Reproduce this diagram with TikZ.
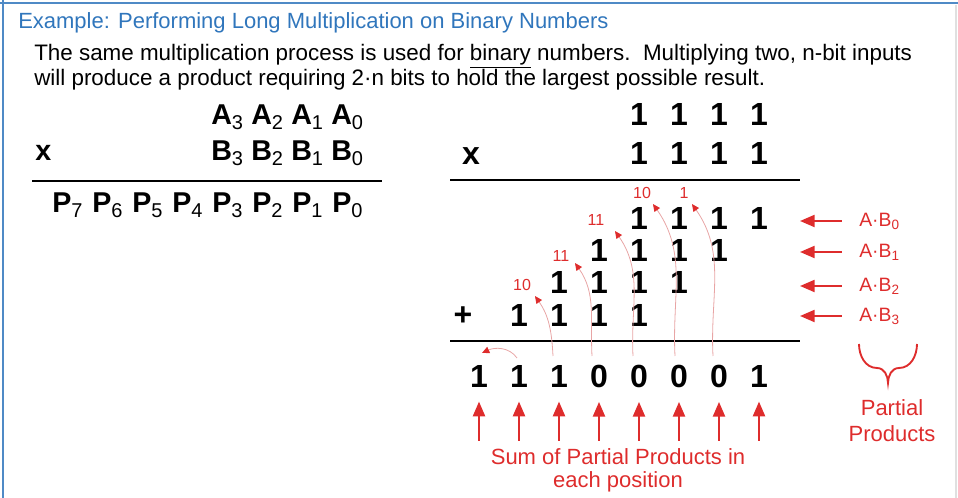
\documentclass[tikz,border=0pt]{standalone}
\usepackage{fontspec}
\setmainfont{Liberation Sans}
\usetikzlibrary{arrows.meta}

\definecolor{slideblue}{RGB}{48,118,188}
\definecolor{slidered}{RGB}{222,44,44}
\definecolor{carryline}{RGB}{232,165,165}

\newcommand{\lowidx}[1]{\raisebox{-0.32ex}{\fontsize{15}{15}\selectfont\mdseries #1}}

\begin{document}
\begin{tikzpicture}[
        x=0.75pt, y=-0.75pt,
        headline/.style={anchor=base west, inner sep=0, text=slideblue, font=\fontsize{16.5}{19}\selectfont},
        body/.style={anchor=base west, inner sep=0, font=\fontsize{16.8}{19}\selectfont},
        letter/.style={anchor=base west, inner sep=0, font=\fontsize{21.5}{25}\selectfont\bfseries},
        bit/.style={anchor=base, inner sep=0, font=\fontsize{24}{28}\selectfont\bfseries},
        carry/.style={inner sep=0, text=slidered, font=\fontsize{12}{14}\selectfont},
        note/.style={align=center, inner sep=0, text=slidered, font=\fontsize{16.5}{19.5}\selectfont},
        rule/.style={line width=1.6pt},
        ptr/.style={draw=slidered, line width=1.6pt, -{Triangle[length=11pt,width=9pt]}},
        carryarrow/.style={draw=carryline, line width=0.6pt, -{Triangle[color=slidered,length=5.5pt,width=5pt]}}
    ]
    \useasboundingbox (0,0) rectangle (958,498);
    % slide frame
    \draw[slideblue!85, line width=2.2pt] (0,3) -- (958,3);
    \draw[slideblue!85, line width=2.2pt] (3,0) -- (3,498);
    \draw[black!12, line width=0.8pt] (956,5) -- (956,498);

    % heading and text
    \node[headline] (title) at (18,29) {Example: Performing Long Multiplication on Binary Numbers};
    \node[body] (line1) at (34,61) {The same multiplication process is used for \underline{binary} numbers.\ \ Multiplying two, n-bit inputs};
    \node[body] (line2) at (34,86) {will produce a product requiring 2·n bits to hold the largest possible result.};

    % general form
    \foreach \i [count=\k from 0] in {3,2,1,0} {
        \node[letter] (a\i) at (211+40*\k,125) {A\lowidx{\i}};
        \node[letter] (b\i) at (211+40*\k,161) {B\lowidx{\i}};
    }
    \node[letter] (times1) at (35,161) {x};
    \draw[rule] (32,181) -- (382,181);
    \foreach \i in {0,...,7}
        \node[letter] (p\i) at (332-40*\i,213) {P\lowidx{\i}};

    % the 4-bit example
    \foreach \i in {0,...,3} {
        \node[bit] (ta\i) at (759-40*\i,126) {1};
        \node[bit] (tb\i) at (759-40*\i,165) {1};
    }
    \node[bit] (times2) at (471,165) {x};
    \draw[rule] (450,180) -- (800,180);

    % partial products
    \foreach \r/\y in {0/230,1/262,2/294,3/327}
        \foreach \c in {0,...,3}
            \node[bit] (pp\r\c) at (759-40*\r-40*\c,\y) {1};
    \node[bit] (plus) at (463,326) {+};
    \draw[rule] (450,341) -- (800,341);

    % sum
    \foreach \i/\v in {0/1,1/0,2/0,3/0,4/0,5/1,6/1,7/1} {
        \node[bit] (r\i) at (759-40*\i,388) {\v};
        \coordinate (u\i) at (759-40*\i,441);
        \draw[ptr, shorten >=10pt] (u\i) -- (r\i.south);
    }
    \node[note, font=\fontsize{16.5}{17.5}\selectfont] (sum) at (618,470) {Sum of Partial Products in\\each position};

    % carries
    \node[carry] (k1) at (684,193) {1};
    \node[carry] (k2) at (642,193) {10};
    \node[carry] (k3) at (596,220) {11};
    \node[carry] (k4) at (561,256) {11};
    \node[carry] (k5) at (522,285) {10};
    \foreach \n/\sx/\tx/\ty in {1/713/692/204, 2/675/653/204, 3/633/615/231, 4/592/575/263, 5/553/535/296} {
        \coordinate (cs\n) at (\sx,356);
        \coordinate (ct\n) at (\tx,\ty);
        \draw[carryarrow] (cs\n) to[out=93,in=-55] (ct\n);
    }
    \coordinate (cs6) at (517,358);
    \coordinate (ct6) at (482,353);
    \draw[carryarrow] (cs6) to[out=125,in=25] (ct6);

    % partial product labels
    \foreach \i/\y in {0/221,1/252,2/286,3/316} {
        \node[note, anchor=west, font=\fontsize{14.5}{16}\selectfont] (ab\i) at (859,\y) {A·B\textsubscript{\i}};
        \coordinate (pt\i) at (800,\y);
        \draw[ptr, shorten <=13pt] (ab\i.west) -- (pt\i);
    }
    \draw[slidered, line width=1.4pt] (859,344) to[out=-90,in=180] (877,368) to[out=0,in=90] (888,383)
        to[out=90,in=180] (899,368) to[out=0,in=-90] (917,344);
    \node[note] (partial) at (892,421) {Partial\\Products};
\end{tikzpicture}
\end{document}
